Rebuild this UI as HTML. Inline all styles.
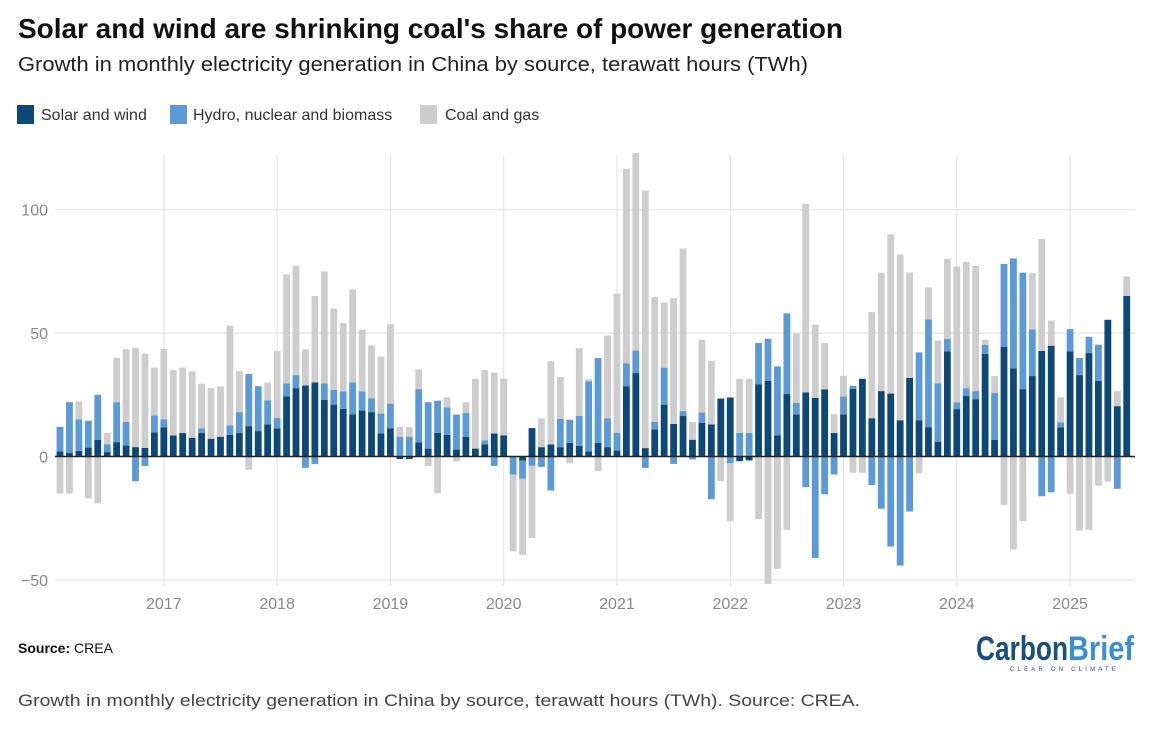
<!DOCTYPE html>
<html><head><meta charset="utf-8"><style>
body{margin:0;background:#fff;width:1161px;height:728px;overflow:hidden;font-family:"Liberation Sans",sans-serif;}
svg text{font-family:"Liberation Sans",sans-serif;}
</style></head><body>
<svg width="1161" height="728" viewBox="0 0 1161 728" xmlns="http://www.w3.org/2000/svg">
<text x="18" y="38" font-size="28" font-weight="bold" fill="#111" textLength="825" lengthAdjust="spacingAndGlyphs">Solar and wind are shrinking coal's share of power generation</text>
<text x="18" y="71" font-size="20" fill="#222" textLength="790" lengthAdjust="spacingAndGlyphs">Growth in monthly electricity generation in China by source, terawatt hours (TWh)</text>
<g>
<rect x="17" y="105" width="17" height="19" fill="#0e4877"/>
<text x="41" y="120" font-size="16" fill="#333">Solar and wind</text>
<rect x="170" y="105" width="17" height="19" fill="#5b9ad6"/>
<text x="193" y="120" font-size="16" fill="#333">Hydro, nuclear and biomass</text>
<rect x="420" y="105" width="17" height="19" fill="#cdcdcd"/>
<text x="445" y="120" font-size="16" fill="#333">Coal and gas</text>
</g>
<g id="grid"></g>
<g id="bars"></g>
<g id="axes"></g>
<text x="18" y="653" font-size="14" fill="#111"><tspan font-weight="bold">Source:</tspan> CREA</text>
<g>
<text x="976" y="660" font-size="34" font-weight="bold" fill="#1a4f7f" textLength="92" lengthAdjust="spacingAndGlyphs">Carbon</text>
<text x="1068" y="660" font-size="34" font-weight="bold" fill="#3b8fd0" textLength="66" lengthAdjust="spacingAndGlyphs">Brief</text>
<text x="1010" y="671" font-size="6" fill="#1a4f7f" letter-spacing="3.2">CLEAR ON CLIMATE</text>
</g>
<text x="18" y="706" font-size="17" fill="#444" textLength="842" lengthAdjust="spacingAndGlyphs">Growth in monthly electricity generation in China by source, terawatt hours (TWh). Source: CREA.</text>
</svg>
<script>
const solarWind=[2,1.4,2.3,3.6,6.8,1.8,5.8,4.5,3.8,3.5,9.7,11.8,8.5,9.5,7.6,9.5,7.2,8,8.8,9.5,12.3,10.3,13,11.4,24.3,27.7,28.8,30,23,21,19.3,17,18.6,18,9.3,11.4,-1,-1,5.7,3.2,9.6,8.8,2.8,8,3.2,4.9,9.3,8.6,0,-1.6,11.5,3.8,4.9,3.8,5.5,4.3,2,5.5,3.8,2.4,28.5,33.8,3.4,11,21,13.2,16.4,6.8,13.6,13,23.5,23.9,-1.9,-1.6,29.3,30.7,8.6,25.3,17,26,23.8,27.2,9.5,17,27.4,31.5,15.5,26.5,25.5,14.7,31.9,14.7,11.9,5.9,42.6,19.2,24.5,23.1,41.6,6.8,44.5,35.7,27.3,32.6,42.8,44.9,11.8,42.6,33,41.9,30.7,55.4,20.4,65.1];
const hydro=[10,20.6,12.7,10.9,18.2,3.2,16.2,9.5,-10,-3.8,6.9,3.2,0,0,0,1.9,0,0,3.8,8.5,21.1,18.2,9.7,4.3,5.3,5.3,-4.6,-3,6.6,6,7.1,13,7.8,5.6,8.1,10,8,8,21.6,18.8,13,11.1,14.2,9.7,0,1.6,-3.8,0,-7.3,-7.4,-3.8,-4.2,-13.8,11.5,9.4,12.2,28.5,34.4,11.6,7.2,9.3,9.2,-4.6,3,15,-3,2,-1.2,4.2,-17.3,0,-2.7,9.6,9.6,16.7,17,27.9,32.7,4.8,-12.4,-41.1,-15.3,-7.3,7.3,1.2,0,-11.6,-21.2,-36.5,-44.2,-22.3,27.5,43.6,23.8,5.1,2.7,3.2,3.4,3.7,19,33.5,44.6,47.2,18.9,-16.1,-14.5,2.1,9,6.9,6.6,14.6,0,-13.1,0];
const coalGas=[-15,-15,7.3,-17,-19,4.6,18,29.5,40.2,38.1,19.4,28.6,26.5,26.5,26.9,18.1,20.5,20.4,40.4,16.6,-5.4,0,7.2,27,44.2,44.3,14.6,35,45.4,33,27.6,37.7,25,21.4,23.1,32.2,4,4,8,-3.8,-14.9,4.1,-1.9,4.3,28.3,28.5,24.7,22.9,-31.2,-30.9,-29.2,11.6,33.7,16.9,-2.7,27.4,0.9,-6,33.6,56.4,78.8,80,104.4,50.6,26.4,51,65.9,7.2,29.5,25.8,-10,-23.5,21.9,21.9,-25.4,-51.6,-45.5,-29.7,28.1,76.4,29.6,18.8,7.7,8.4,-6.6,-6.6,43,48,64.5,67.1,42.6,-6.8,13,17.3,32.4,55,51.2,50.7,2,6.8,-19.6,-37.7,-26.2,22.8,45.3,10.2,10.1,-15.1,-30,-29.7,-11.8,-10.1,6.1,7.9];
const yTicks=[-50,0,50,100];
const yearLabels=["2017","2018","2019","2020","2021","2022","2023","2024","2025"];
const NS='http://www.w3.org/2000/svg';
const plotL=55,plotR=1135,plotT=155;
const zeroY=456.5,perUnit=2.468,x0=60,step=9.44,bw=6.8;
function y(v){return zeroY-v*perUnit;}
function xc(i){return x0+i*step;}
function mk(tag,attrs,parent){const e=document.createElementNS(NS,tag);for(const k in attrs)e.setAttribute(k,attrs[k]);parent.appendChild(e);return e;}
const grid=document.getElementById('grid'),bars=document.getElementById('bars'),axes=document.getElementById('axes');
yTicks.forEach(t=>{
  if(t!==0){const l=mk('line',{x1:plotL,x2:plotR,y1:y(t),y2:y(t),stroke:'#e4e4e4','stroke-width':1.2},grid);
  
  }
  const tx=mk('text',{x:48,y:y(t)+6,'font-size':16,fill:'#888','text-anchor':'end'},axes);
  tx.textContent=t===-50?'\u221250':String(t);
  
  
});
yearLabels.forEach((lab,k)=>{
  const xx=xc(11+k*12);
  const l=mk('line',{x1:xx,x2:xx,y1:plotT,y2:y(-50)+6,stroke:'#e4e4e4','stroke-width':1.2},grid);
  
  
  const tx=mk('text',{x:xx,y:609,'font-size':16,fill:'#888','text-anchor':'middle'},axes);
  tx.textContent=lab;
  
  
});
const series=[[solarWind,'#0e4877','bar-solar-wind'],[hydro,'#5b9ad6','bar-hydro'],[coalGas,'#cdcdcd','bar-coal-gas']];
for(let i=0;i<solarWind.length;i++){
  let pos=0,neg=0;
  series.forEach(([arr,col,nm])=>{
    const v=arr[i];if(!v)return;
    let a,b;
    if(v>0){a=pos;b=pos+v;pos=b;}else{a=neg;b=neg+v;neg=b;}
    const top=y(Math.max(a,b)),bot=y(Math.min(a,b));
    const r=mk('rect',{x:xc(i)-bw/2,y:top,width:bw,height:Math.max(bot-top,0.5),fill:col},bars);
    
    
  });
}
const z=mk('line',{x1:plotL,x2:plotR,y1:zeroY,y2:zeroY,stroke:'#222','stroke-width':1.6},axes);


</script>
</body></html>
